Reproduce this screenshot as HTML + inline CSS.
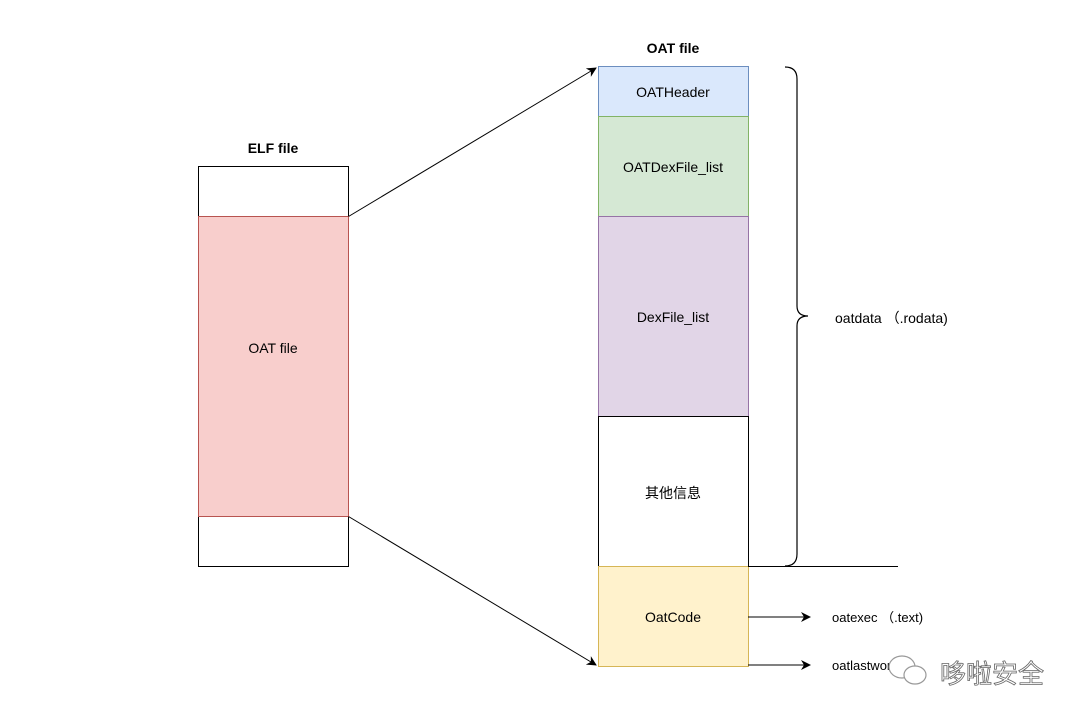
<!DOCTYPE html>
<html><head><meta charset="utf-8"><style>body{margin:0;background:#fff}</style></head><body>
<svg width="1080" height="719" xmlns="http://www.w3.org/2000/svg" font-family="'Liberation Sans','Noto Sans CJK SC',sans-serif" font-size="14">
<defs><marker id="a" markerWidth="10" markerHeight="10" refX="9" refY="5" orient="auto" markerUnits="userSpaceOnUse"><path d="M0,0 L10,5 L0,10 L3,5 z" fill="#000"/></marker></defs>
<rect width="1080" height="719" fill="#fff"/>
<text x="273" y="153" text-anchor="middle" font-weight="bold">ELF file</text>
<rect x="198.5" y="166.5" width="150" height="400" fill="#fff" stroke="#000"/>
<rect x="198.5" y="216.5" width="150" height="300" fill="#f8cecc" stroke="#b85450"/>
<text x="273" y="353" text-anchor="middle">OAT file</text>
<text x="673" y="53" text-anchor="middle" font-weight="bold">OAT file</text>
<rect x="598.5" y="66.5" width="150" height="50" fill="#dae8fc" stroke="#6c8ebf"/>
<text x="673" y="97" text-anchor="middle">OATHeader</text>
<rect x="598.5" y="116.5" width="150" height="100" fill="#d5e8d4" stroke="#82b366"/>
<text x="673" y="172" text-anchor="middle">OATDexFile_list</text>
<rect x="598.5" y="216.5" width="150" height="200" fill="#e1d5e7" stroke="#9673a6"/>
<text x="673" y="322" text-anchor="middle">DexFile_list</text>
<rect x="598.5" y="416.5" width="150" height="150" fill="#fff" stroke="#000"/>
<text x="673" y="498" text-anchor="middle">其他信息</text>
<rect x="598.5" y="566.5" width="150" height="100" fill="#fff2cc" stroke="#d6b656"/>
<text x="673" y="622" text-anchor="middle">OatCode</text>
<line x1="748" y1="566.5" x2="898" y2="566.5" stroke="#000"/>
<path d="M785,67 Q797,67 797,79 L797,306 Q797,316 808,316 Q797,316 797,326 L797,554 Q797,566 785,566" fill="none" stroke="#000" stroke-width="1.2"/>
<text x="835" y="323">oatdata （.rodata)</text>
<line x1="348.5" y1="216.5" x2="596" y2="68" stroke="#000" marker-end="url(#a)"/>
<line x1="348.5" y1="516.5" x2="596" y2="665" stroke="#000" marker-end="url(#a)"/>
<line x1="748" y1="617" x2="810" y2="617" stroke="#000" marker-end="url(#a)"/>
<line x1="748" y1="665" x2="810" y2="665" stroke="#000" marker-end="url(#a)"/>
<text x="832" y="622" font-size="13">oatexec （.text)</text>
<text x="832" y="670" font-size="13">oatlastword</text>
<g fill="#fff" stroke="#999" stroke-width="1.2">
<ellipse cx="902" cy="667" rx="13" ry="11"/>
<ellipse cx="915" cy="675" rx="11" ry="9"/>
</g>
<text x="940" y="683" font-size="26" fill="#fff" stroke="#666" stroke-width="0.8">哆啦安全</text>
</svg>
</body></html>
